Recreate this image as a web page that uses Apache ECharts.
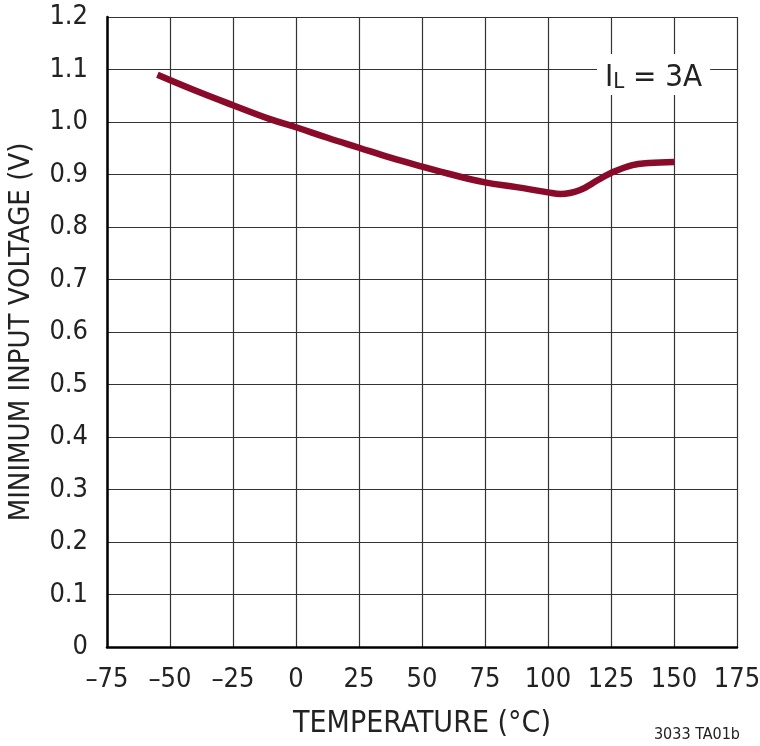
<!DOCTYPE html>
<html><head><meta charset="utf-8">
<script src="https://cdn.jsdelivr.net/npm/echarts@6/dist/echarts.min.js"></script>
<style>html,body{margin:0;padding:0;background:#fff}#c{width:760px;height:746px}</style>
</head><body><div id="c"></div>
<script>
const xTicks = [-75,-50,-25,0,25,50,75,100,125,150,175];
const yTicks = [0,0.1,0.2,0.3,0.4,0.5,0.6,0.7,0.8,0.9,1.0,1.1,1.2];
const temperature = [-55,-40,-25,-10,0,12.5,25,37.5,50,62.5,75,87.5,100,105,112.5,120,125,133.5,140,150];
const minInputVoltage = [1.09,1.06,1.032,1.005,0.99,0.97,0.951,0.932,0.915,0.899,0.885,0.876,0.866,0.863,0.87,0.89,0.903,0.918,0.922,0.924];
const FONT = '"DejaVu Sans Condensed","Liberation Sans Narrow","Roboto",sans-serif';
const chart = echarts.init(document.getElementById('c'));
chart.setOption({
  animation:false,
  grid:{left:107,right:23,top:17,bottom:99,show:false,outerBoundsMode:'none',containLabel:false},
  xAxis:{type:'value',min:-75,max:175,interval:25,
    axisLine:{show:true,onZero:false,lineStyle:{color:'#000',width:2.5}},
    axisTick:{show:false},
    splitLine:{show:true,lineStyle:{color:'#333',width:1.2}},
    axisLabel:{color:'#222',fontFamily:FONT,fontSize:27,margin:19,
      formatter:v=>v<0?'\u2013'+Math.abs(v):String(v)},
    name:'TEMPERATURE (°C)',nameLocation:'middle',nameGap:62,
    nameTextStyle:{color:'#222',fontFamily:FONT,fontSize:30}},
  yAxis:{type:'value',min:0,max:1.2,interval:0.1,
    axisLine:{show:true,onZero:false,lineStyle:{color:'#000',width:2.5}},
    axisTick:{show:false},
    splitLine:{show:true,lineStyle:{color:'#333',width:1.2}},
    axisLabel:{color:'#222',fontFamily:FONT,fontSize:27,margin:19,
      formatter:v=>v===0?'0':v.toFixed(1)},
    name:'MINIMUM INPUT VOLTAGE (V)',nameLocation:'middle',nameGap:71,
    nameTextStyle:{color:'#222',fontFamily:FONT,fontSize:29}},
  series:[{type:'line',data:temperature.map((t,i)=>[t,minInputVoltage[i]]),
    smooth:0.4,showSymbol:false,lineStyle:{color:'#8a0a2a',width:6.5},z:5}],
  graphic:[
    {type:'text',left:597,top:54,z:10,style:{
      text:'{i|I}{s|L}{i| = 3A}',backgroundColor:'#fff',padding:[2,8,2,8],
      rich:{i:{fontFamily:FONT,fontSize:31,fill:'#222',verticalAlign:'bottom'},
            s:{fontFamily:FONT,fontSize:22,fill:'#222',padding:[15,0,0,0],verticalAlign:'bottom'}}}},
    {type:'text',right:20,bottom:3,style:{text:'3033 TA01b',fontFamily:FONT,fontSize:16,fill:'#222'}}
  ]
});
</script></body></html>
